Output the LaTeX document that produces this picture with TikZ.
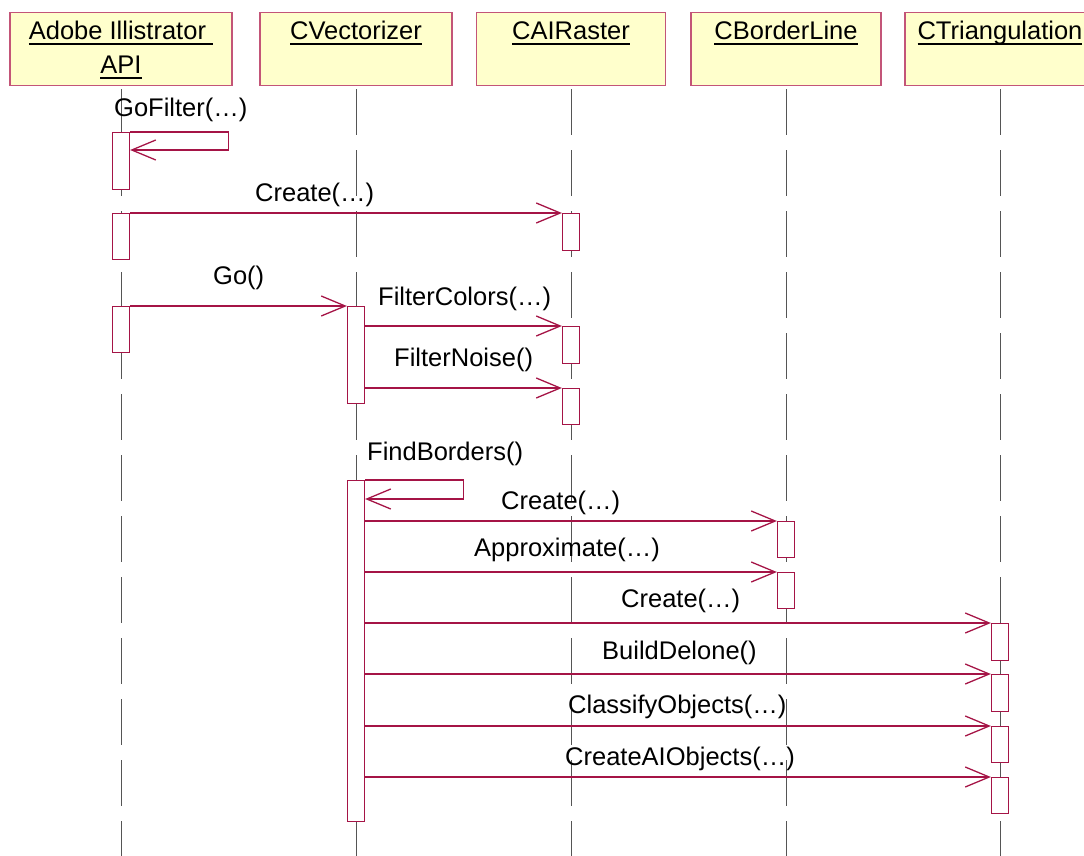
\documentclass[tikz,border=0pt]{standalone}
\usepackage{fontspec}
\setmainfont{Liberation Sans}
\usetikzlibrary{arrows.meta}
\definecolor{umlred}{RGB}{165,20,70}
\definecolor{hdrred}{RGB}{195,85,120}
\definecolor{umlfill}{RGB}{255,255,204}
\definecolor{lifegray}{RGB}{85,85,85}
\newcommand\myul[1]{\setbox0\hbox{#1}\rlap{\rule[-5pt]{\wd0}{1.8pt}}\box0}
\begin{document}
\begin{tikzpicture}[x=1pt,y=-1pt,
  hdr/.style={draw=hdrred, fill=umlfill, line width=1.4pt, minimum height=73pt, inner sep=0pt, anchor=north},
  act/.style={draw=umlred, fill=white, line width=1.2pt, minimum width=17pt, inner sep=0pt, anchor=north},
  life/.style={draw=lifegray, line width=1pt, dash pattern=on 46pt off 15pt},
  msg/.style={draw=umlred, line width=1.2pt, -{Straight Barb[length=24pt,width=20pt,line width=1.3pt]}},
  lbl/.style={anchor=base west, inner sep=0pt, font=\fontsize{25.5}{30}\selectfont},
  ttl/.style={anchor=base, inner sep=0pt, font=\fontsize{25.5}{30}\selectfont}]
\useasboundingbox (0,0) rectangle (1084,856);
\clip (0,0) rectangle (1084,856);
% headers
\node[hdr, minimum width=222pt] (h1) at (121,12) {};
\node[hdr, minimum width=192pt] (h2) at (356,12) {};
\node[hdr, minimum width=189pt] (h3) at (571,12) {};
\node[hdr, minimum width=190pt] (h4) at (786,12) {};
\node[hdr, minimum width=190pt] (h5) at (1000,12) {};
\node[ttl] (t1a) at (121,40) {\myul{Adobe Illistrator\ }};
\node[ttl] (t1b) at (121,74) {\myul{API}};
\node[ttl] (t2) at (356,40) {\myul{CVectorizer}};
\node[ttl] (t3) at (571,40) {\myul{CAIRaster}};
\node[ttl] (t4) at (786,40) {\myul{CBorderLine}};
\node[ttl] (t5) at (1000,40) {\myul{CTriangulation}};
% lifelines
\foreach \h in {h1,h2,h3,h4,h5}
  \draw[life] ([yshift=-3pt]\h.south) -- (\h.south |- 0,860);
% activations
\node[act, minimum height=57pt] (a1) at (121,132) {};
\node[act, minimum height=46pt] (a2) at (121,213) {};
\node[act, minimum height=46pt] (a3) at (121,306) {};
\node[act, minimum height=37pt] (r1) at (571,213) {};
\node[act, minimum height=37pt] (r2) at (571,326) {};
\node[act, minimum height=36pt] (r3) at (571,388) {};
\node[act, minimum height=97pt] (v1) at (356,306) {};
\node[act, minimum height=341pt] (v2) at (356,480) {};
\node[act, minimum height=36pt] (b1) at (786,521) {};
\node[act, minimum height=36pt] (b2) at (786,572) {};
\node[act, minimum height=37pt] (c1) at (1000,623) {};
\node[act, minimum height=37pt] (c2) at (1000,674) {};
\node[act, minimum height=36pt] (c3) at (1000,726) {};
\node[act, minimum height=36pt] (c4) at (1000,777) {};
% messages
\draw[msg] (a1.north east) -- ++(98,0) -- ++(0,18) -- (a1.east |- 0,150);
\draw[msg] (a2.north east) -- (r1.north west);
\draw[msg] (a3.north east) -- (v1.north west);
\draw[msg] (v1.east |- r2.north) -- (r2.north west);
\draw[msg] (v1.east |- r3.north) -- (r3.north west);
\draw[msg] (v2.north east) -- ++(98,0) -- ++(0,19) -- (v2.east |- 0,499);
\draw[msg] (v2.east |- b1.north) -- (b1.north west);
\draw[msg] (v2.east |- b2.north) -- (b2.north west);
\draw[msg] (v2.east |- c1.north) -- (c1.north west);
\draw[msg] (v2.east |- c2.north) -- (c2.north west);
\draw[msg] (v2.east |- c3.north) -- (c3.north west);
\draw[msg] (v2.east |- c4.north) -- (c4.north west);
% labels
\node[lbl] (m1) at (114,117) {GoFilter(…)};
\node[lbl] (m2) at (255,201) {Create(…)};
\node[lbl] (m3) at (213,284) {Go()};
\node[lbl] (m4) at (378,305) {FilterColors(…)};
\node[lbl] (m5) at (394,366) {FilterNoise()};
\node[lbl] (m6) at (367,460) {FindBorders()};
\node[lbl] (m7) at (501,509) {Create(…)};
\node[lbl] (m8) at (474,556) {Approximate(…)};
\node[lbl] (m9) at (621,607) {Create(…)};
\node[lbl] (m10) at (602,659) {BuildDelone()};
\node[lbl] (m11) at (568,713) {ClassifyObjects(…)};
\node[lbl] (m12) at (565,765) {CreateAIObjects(…)};
\end{tikzpicture}
\end{document}
